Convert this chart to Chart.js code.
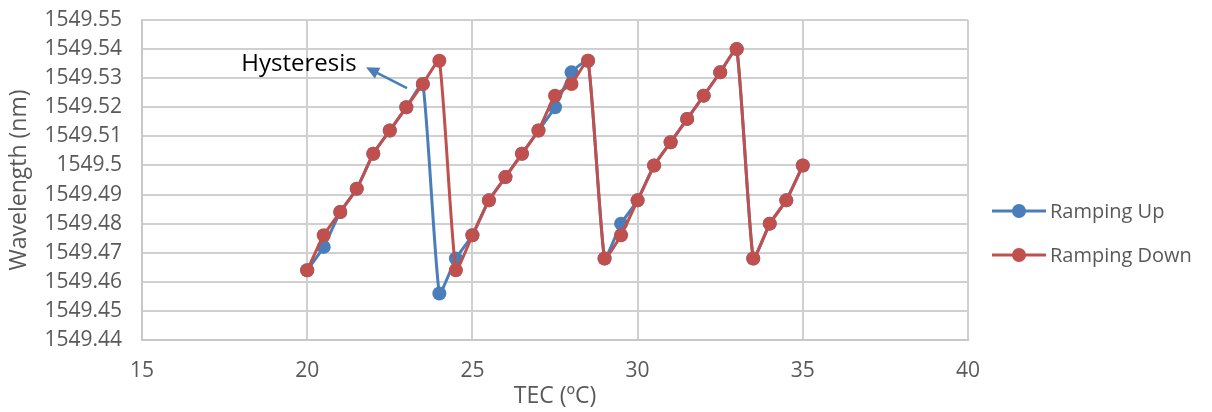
<!DOCTYPE html>
<html>
<head>
<meta charset="utf-8">
<script src="https://cdn.jsdelivr.net/npm/chart.js@4.4.1/dist/chart.umd.min.js"></script>
<style>
  html, body { margin: 0; padding: 0; background: #fff; }
  #wrap { width: 1212px; height: 412px; position: relative; }
</style>
</head>
<body>
<div id="wrap"><canvas id="chart"></canvas></div>
<script>
// TEC temperature (°C)
const tecUp = [20, 20.5, 21, 21.5, 22, 22.5, 23, 23.5, 24, 24.5, 25, 25.5, 26, 26.5, 27, 27.5, 28, 28.5, 29, 29.5, 30, 30.5, 31, 31.5, 32, 32.5, 33, 33.5, 34, 34.5, 35];
const tecDown = [20, 20.5, 21, 21.5, 22, 22.5, 23, 23.5, 24, 24.5, 25, 25.5, 26, 26.5, 27, 27.5, 28, 28.5, 29, 29.5, 30, 30.5, 31, 31.5, 32, 32.5, 33, 33.5, 34, 34.5, 35];

// Wavelength (nm)
const wavelengthUp = [1549.464, 1549.472, 1549.484, 1549.492, 1549.504, 1549.512, 1549.520, 1549.528, 1549.456, 1549.468, 1549.476, 1549.488, 1549.496, 1549.504, 1549.512, 1549.520, 1549.532, 1549.536, 1549.468, 1549.480, 1549.488, 1549.500, 1549.508, 1549.516, 1549.524, 1549.532, 1549.540, 1549.468, 1549.480, 1549.488, 1549.500];
const wavelengthDown = [1549.464, 1549.476, 1549.484, 1549.492, 1549.504, 1549.512, 1549.520, 1549.528, 1549.536, 1549.464, 1549.476, 1549.488, 1549.496, 1549.504, 1549.512, 1549.524, 1549.528, 1549.536, 1549.468, 1549.476, 1549.488, 1549.500, 1549.508, 1549.516, 1549.524, 1549.532, 1549.540, 1549.468, 1549.480, 1549.488, 1549.500];

const seriesNames = ["Ramping Up", "Ramping Down"];
const seriesColors = ["#4a7ebb", "#c0504d"];

// annotation, in data units
const noteText = "Hysteresis";
const notePos = { x: 19.75, y: 1549.5349 };
const arrowFrom = { x: 23.02, y: 1549.5266 };
const arrowTo = { x: 21.78, y: 1549.5338 };

const textColor = "#595959";
const fontFamily = "'Open Sans', sans-serif";

const toPoints = (xs, ys) => xs.map((x, i) => ({ x: x, y: ys[i] }));

// draws the hysteresis note and the legend on the right
const extrasPlugin = {
    id: "extras",
    afterDatasetsDraw(chart) {
        const c = chart.ctx;
        const xs = chart.scales.x;
        const ys = chart.scales.y;

        // arrow
        const x1 = xs.getPixelForValue(arrowFrom.x), y1 = ys.getPixelForValue(arrowFrom.y);
        const x2 = xs.getPixelForValue(arrowTo.x), y2 = ys.getPixelForValue(arrowTo.y);
        const ang = Math.atan2(y2 - y1, x2 - x1);
        c.save();
        c.strokeStyle = seriesColors[0];
        c.fillStyle = seriesColors[0];
        c.lineWidth = 2.5;
        c.beginPath();
        c.moveTo(x1, y1);
        c.lineTo(x2 - 8 * Math.cos(ang), y2 - 8 * Math.sin(ang));
        c.stroke();
        c.beginPath();
        c.moveTo(x2, y2);
        c.lineTo(x2 - 13 * Math.cos(ang) + 6 * Math.sin(ang), y2 - 13 * Math.sin(ang) - 6 * Math.cos(ang));
        c.lineTo(x2 - 13 * Math.cos(ang) - 6 * Math.sin(ang), y2 - 13 * Math.sin(ang) + 6 * Math.cos(ang));
        c.closePath();
        c.fill();

        // note text
        c.font = "24px " + fontFamily;
        c.fillStyle = "#000";
        c.textAlign = "center";
        c.textBaseline = "middle";
        c.fillText(noteText, xs.getPixelForValue(notePos.x), ys.getPixelForValue(notePos.y));

        // legend
        const lx = chart.chartArea.right + 24;
        const midY = (chart.chartArea.top + chart.chartArea.bottom) / 2;
        seriesNames.forEach((name, i) => {
            const ly = midY + 31 + i * 44;
            c.strokeStyle = seriesColors[i];
            c.fillStyle = seriesColors[i];
            c.lineWidth = 3;
            c.beginPath();
            c.moveTo(lx, ly);
            c.lineTo(lx + 54, ly);
            c.stroke();
            c.beginPath();
            c.arc(lx + 27, ly, 7, 0, Math.PI * 2);
            c.fill();
            c.fillStyle = textColor;
            c.textAlign = "left";
            c.font = "20px " + fontFamily;
            c.fillText(name, lx + 58, ly + 1);
        });
        c.restore();
    }
};

const datasets = [
    { data: toPoints(tecUp, wavelengthUp), order: 1 },
    { data: toPoints(tecDown, wavelengthDown), order: 0 }
].map((d, i) => Object.assign(d, {
    label: seriesNames[i],
    borderColor: seriesColors[i],
    backgroundColor: seriesColors[i],
    borderWidth: 3,
    pointRadius: 7,
    pointHoverRadius: 7,
    pointBorderWidth: 0,
    tension: 0.15,
    showLine: true
}));

new Chart(document.getElementById("chart"), {
    type: "scatter",
    data: { datasets },
    plugins: [extrasPlugin],
    options: {
        responsive: true,
        maintainAspectRatio: false,
        animation: false,
        layout: { padding: { left: 6, right: 244, top: 20, bottom: 2 } },
        plugins: {
            legend: { display: false },
            tooltip: { enabled: false }
        },
        scales: {
            x: {
                type: "linear",
                min: 15,
                max: 40,
                ticks: {
                    stepSize: 5,
                    autoSkip: false,
                    color: textColor,
                    font: { size: 21, family: fontFamily },
                    padding: 18,
                    maxRotation: 0
                },
                grid: { color: "#d0d0d0", lineWidth: 2, drawTicks: false },
                border: { color: "#c8c8c8", width: 2 },
                title: {
                    display: true,
                    text: "TEC (ºC)",
                    color: textColor,
                    font: { size: 23, family: fontFamily },
                    padding: { top: 2, bottom: 0 }
                },
                afterFit: s => { s.height = 70; s.paddingLeft = 0; s.paddingRight = 0; }
            },
            y: {
                min: 1549.44,
                max: 1549.55,
                ticks: {
                    stepSize: 0.01,
                    autoSkip: false,
                    color: textColor,
                    font: { size: 21, family: fontFamily },
                    padding: 20,
                    callback: v => String(+v.toFixed(2))
                },
                grid: { color: "#d0d0d0", lineWidth: 2, drawTicks: false },
                border: { color: "#c8c8c8", width: 2 },
                title: {
                    display: true,
                    text: "Wavelength (nm)",
                    color: textColor,
                    font: { size: 23, family: fontFamily },
                    padding: { top: 0, bottom: 0 }
                },
                afterFit: s => { s.width = 136; s.paddingTop = 0; s.paddingBottom = 0; }
            }
        }
    }
});
</script>
</body>
</html>
